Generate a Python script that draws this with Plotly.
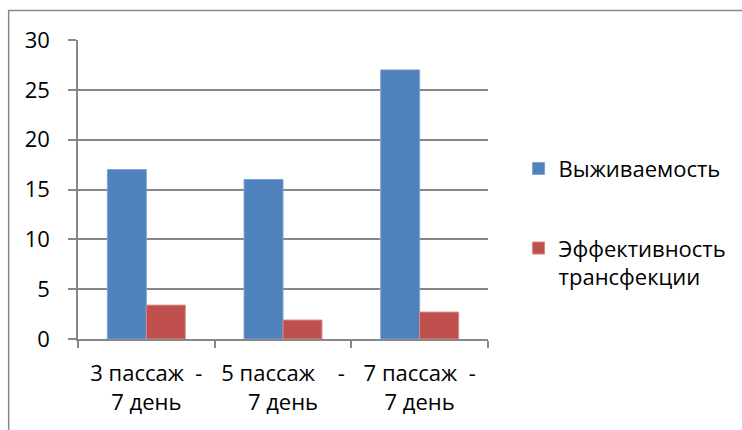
import plotly.graph_objects as go

categories = ["3\u00a0пассаж\u00a0\u00a0-<br>7 день",
              "5\u00a0пассаж\u00a0\u00a0\u00a0\u00a0-<br>7 день",
              "7\u00a0пассаж\u00a0\u00a0-<br>7 день"]
survival = [17, 16, 27]
transfection = [3.4, 1.9, 2.7]
series_names = ["Выживаемость", "Эффективность<br>трансфекции"]
y_ticks = [0, 5, 10, 15, 20, 25, 30]

FONT = "Open Sans"
FS = 22
GRID = "#878787"

fig = go.Figure()
fig.add_trace(go.Bar(x=categories, y=survival, name=series_names[0],
                     legendgroup="a",
                     marker=dict(color="#4F81BD", line=dict(color="#7FA3D0", width=1))))
fig.add_trace(go.Bar(x=categories, y=transfection, name=series_names[1],
                     legendgroup="b",
                     marker=dict(color="#C0504D", line=dict(color="#D58886", width=1))))

fig.update_layout(
    width=742, height=430,
    margin=dict(l=78, r=253, t=40, b=91),
    paper_bgcolor="white", plot_bgcolor="white",
    font=dict(family=FONT, size=FS, color="#000000"),
    barmode="group", bargap=0.43, bargroupgap=0,
    legend=dict(x=1.072, xanchor="left", y=0.64, yanchor="top",
                traceorder="grouped", tracegroupgap=48, valign="top",
                font=dict(family=FONT, size=FS, color="#000000"),
                bgcolor="rgba(0,0,0,0)"),
    shapes=[dict(type="rect", xref="paper", yref="paper",
                 x0=(8.5 - 78) / 411, x1=3, y0=-2, y1=(339 - 10.5) / 299,
                 line=dict(color="#888888", width=1.5), fillcolor="rgba(0,0,0,0)",
                 layer="below")],
)
fig.update_xaxes(showline=True, linecolor=GRID, linewidth=1.5,
                 ticks="outside", tickson="boundaries", ticklen=7,
                 tickcolor=GRID, tickwidth=1.5, showgrid=False,
                 tickfont=dict(family=FONT, size=FS), ticklabelstandoff=14)
fig.update_yaxes(range=[0, 30], tickvals=y_ticks, showline=True, linecolor=GRID,
                 linewidth=1.5, ticks="outside", ticklen=8, tickcolor=GRID,
                 tickwidth=1.5, showgrid=True, gridcolor=GRID, gridwidth=1.5,
                 zeroline=False, tickfont=dict(family=FONT, size=FS),
                 ticklabelstandoff=14)

fig.write_html("out.html")
